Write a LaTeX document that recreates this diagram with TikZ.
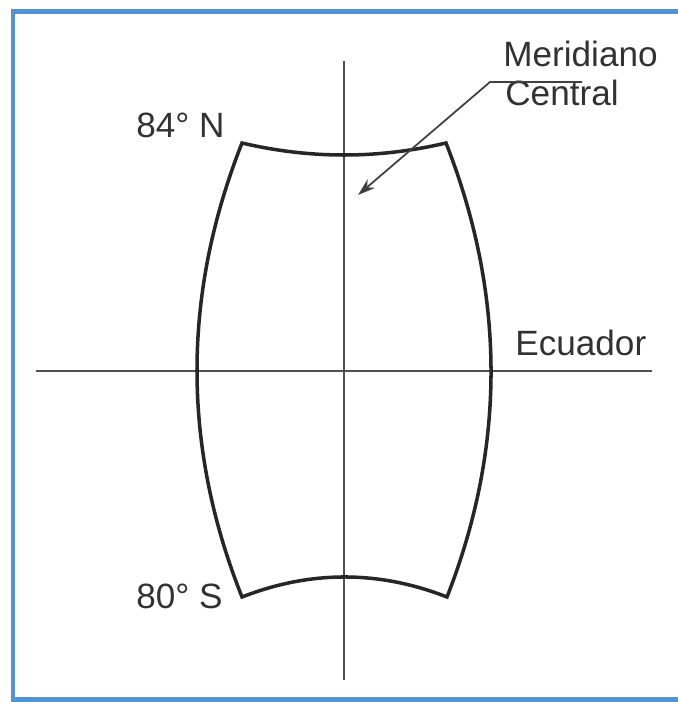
\documentclass[tikz,border=0pt]{standalone}
\usepackage{fontspec}
\setmainfont{Liberation Sans}
\usetikzlibrary{arrows.meta}
\definecolor{framebl}{RGB}{84,146,214}
\definecolor{txtgray}{RGB}{50,50,50}
\definecolor{axgray}{RGB}{80,80,80}

\begin{document}
\begin{tikzpicture}[x=0.02cm, y=-0.02cm, font=\fontsize{20}{22}\selectfont, every node/.style={text=txtgray, inner sep=0pt}, axisline/.style={draw=axgray, line width=1.2pt}, outline/.style={draw=black!85, line width=2pt, line join=miter}, pointer/.style={draw=black!75, line width=1pt, -{Stealth[length=10pt, width=6.5pt]}}, tag/.style={anchor=base west}]
\useasboundingbox (0,0) rectangle (678,702);
\clip (0,0) rectangle (678,702);
\draw[framebl, line width=2.6pt] (13,11.5) rectangle (700,699.5);
\coordinate (nw) at (242,143);
\coordinate (ne) at (446,143);
\coordinate (se) at (447,597);
\coordinate (sw) at (242,597);
\coordinate (mtop) at (344,61);
\coordinate (mbot) at (344,680);
\coordinate (ewest) at (36,371);
\coordinate (eeast) at (652,371);
\draw[axisline] (mtop) -- (mbot);
\draw[axisline] (ewest) -- (eeast);
\draw[outline] (nw) .. controls (310,159) and (378,159) .. (ne) .. controls (505.7,295) and (506,446.3) .. (se) .. controls (378.7,570.3) and (310.3,570.3) .. (sw) .. controls (182,446.3) and (182,295) .. cycle;
\node[anchor=base east] (north) at (225,138) {84° N};
\node[anchor=base east] (south) at (223,608) {80° S};
\node[tag] (ecuador) at (515,355) {Ecuador};
\node[tag] (meridiano) at (503,67) {Meridiano};
\node[tag] (central) at (505,106) {Central};
\coordinate (lead) at (582,82);
\coordinate (bend) at (490,82);
\coordinate (tip) at (358,195);
\draw[pointer] (lead) -- (bend) -- (tip);
\end{tikzpicture}
\end{document}
